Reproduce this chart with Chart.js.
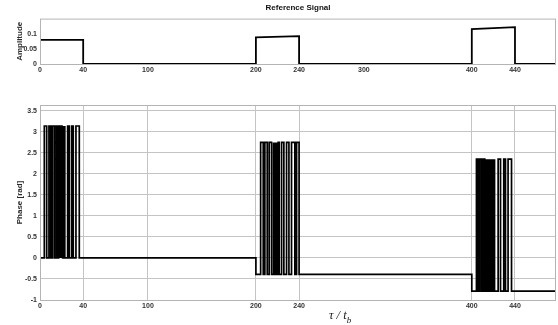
<!DOCTYPE html>
<html>
<head>
<meta charset="utf-8">
<script src="https://cdn.jsdelivr.net/npm/chart.js@4/dist/chart.umd.min.js"></script>
<style>
  html, body { margin: 0; padding: 0; background: #fff; }
  body { width: 558px; height: 325px; position: relative; overflow: hidden; font-family: "Liberation Sans", Arial, sans-serif; }
  #top-box { position: absolute; left: 0; top: 0; width: 558px; height: 80px; }
  #bot-box { position: absolute; left: 0; top: 80px; width: 558px; height: 245px; }
  #xlabel { position: absolute; left: 329px; top: 308px; font-family: "Liberation Serif", "DejaVu Serif", serif; font-style: italic; font-size: 12.5px; color: #222; white-space: nowrap; }
  #xlabel sub { font-size: 9px; }
</style>
</head>
<body>
<div id="top-box"><canvas id="chart-amp"></canvas></div>
<div id="bot-box"><canvas id="chart-phase"></canvas></div>
<div id="xlabel">τ / t<sub>b</sub></div>
<script>
// ─── datos ────────────────────────────────────────────────────────────────────
const X_MAX = 478;
const blockStarts = [0, 200, 400];
const blockLen = 40;

// amplitud al inicio y al final de cada pulso
const ampStart = [0.08, 0.088, 0.115];
const ampEnd = [0.08, 0.092, 0.122];

// fase: nivel bajo / alto de cada pulso
const phaseLow = [0, -0.39, -0.79];
const phaseHigh = [3.14, 2.75, 2.35];

// instantes de conmutacion de fase (alterna subida / bajada)
const edges1 = [4.0, 6.2, 8.3, 9.9, 11.4, 13.2, 14.8, 16.0, 17.3, 17.7, 18.2, 18.6, 19.1, 19.5,
  20.0, 20.4, 20.9, 21.3, 21.8, 22.2, 22.7, 23.1, 25.6, 27.1, 29.3, 30.8, 33.3, 36.4];
const edges2 = [204.4, 206.8, 208.3, 210.5, 212.3, 214.5, 216.0, 216.5, 217.0, 217.4, 217.9, 218.3,
  218.8, 219.2, 219.7, 220.1, 220.6, 221.6, 223.8, 225.9, 228.4, 230.6, 233.0, 236.1, 237.7, 240.0];
const edges3 = [404.3, 405.8, 407.4, 409.0, 410.5, 412.0, 412.5, 413.0, 413.4, 413.9, 414.3, 414.8,
  415.2, 415.7, 416.1, 416.6, 417.0, 417.5, 417.9, 418.4, 418.8, 419.3, 419.7, 420.2, 420.6, 421.3,
  424.4, 426.6, 429.6, 431.2, 433.6, 436.8];
const phaseEdges = [edges1, edges2, edges3];

const ampTicksX = [0, 40, 100, 200, 240, 300, 400, 440];
const ampTicksY = [0, 0.05, 0.1];
const phaseTicksX = [0, 40, 100, 200, 240, 400, 440];
const phaseTicksY = [-1, -0.5, 0, 0.5, 1, 1.5, 2, 2.5, 3, 3.5];

// ─── construir trazos ────────────────────────────────────────────────────────
const ampPts = [];
blockStarts.forEach((s, i) => {
  ampPts.push({ x: s, y: 0 }, { x: s, y: ampStart[i] }, { x: s + blockLen, y: ampEnd[i] }, { x: s + blockLen, y: 0 });
});
ampPts.push({ x: X_MAX, y: 0 });
ampPts.shift(); // el primer pulso arranca ya arriba en x=0

const phasePts = [{ x: 0, y: 0 }];
let nivel = 0;
blockStarts.forEach((s, i) => {
  phasePts.push({ x: s, y: nivel }, { x: s, y: phaseLow[i] });
  nivel = phaseLow[i];
  phaseEdges[i].forEach((e, k) => {
    const nuevo = k % 2 === 0 ? phaseHigh[i] : phaseLow[i];
    phasePts.push({ x: e, y: nivel }, { x: e, y: nuevo });
    nivel = nuevo;
  });
});
phasePts.push({ x: X_MAX, y: nivel });

// ─── estilo comun ────────────────────────────────────────────────────────────
const tickFont = { family: 'Liberation Sans', size: 7, weight: 'bold' };
const tickColor = '#333';
const marco = {
  id: 'marco',
  afterDraw(chart) {
    const { ctx, chartArea: a } = chart;
    ctx.save();
    ctx.strokeStyle = '#b4b4b4';
    ctx.lineWidth = 1;
    ctx.strokeRect(a.left + 0.5, a.top + 0.5, a.right - a.left - 1, a.bottom - a.top);
    ctx.restore();
  }
};

function ejeX(ticks, altura, conGrid) {
  return {
    type: 'linear', min: 0, max: X_MAX,
    afterBuildTicks: s => { s.ticks = ticks.map(v => ({ value: v })); },
    afterFit: s => { s.height = altura; },
    ticks: { color: tickColor, font: tickFont, padding: 2, maxRotation: 0, autoSkip: false, callback: v => String(v) },
    grid: { display: conGrid, color: '#c4c4c4', drawTicks: false },
    border: { display: false }
  };
}
function ejeY(min, max, ticks, titulo, conGrid) {
  return {
    min, max,
    afterBuildTicks: s => { s.ticks = ticks.map(v => ({ value: v })); },
    afterFit: s => { s.width = 40; },
    ticks: { color: tickColor, font: tickFont, padding: 3, callback: v => String(v) },
    grid: { display: conGrid, color: '#c4c4c4', drawTicks: false },
    border: { display: false },
    title: { display: true, text: titulo, color: '#2a2a2a', font: { family: 'Liberation Sans', size: 8, weight: 'bold' }, padding: { top: 15, bottom: 0 } }
  };
}

new Chart(document.getElementById('chart-amp'), {
  type: 'line',
  data: { datasets: [{ data: ampPts, borderColor: '#000', borderWidth: 1.8, pointRadius: 0, tension: 0, fill: false }] },
  options: {
    responsive: true, maintainAspectRatio: false, animation: false,
    layout: { padding: { left: 0, right: 2, top: 0, bottom: 0 } },
    plugins: {
      legend: { display: false }, tooltip: { enabled: false },
      title: { display: true, fullSize: false, text: 'Reference Signal', color: '#111', font: { family: 'Liberation Sans', size: 8, weight: 'bold' }, padding: { top: 3, bottom: 6 } }
    },
    scales: { x: ejeX(ampTicksX, 16, false), y: ejeY(0, 0.15, ampTicksY, 'Amplitude', false) }
  },
  plugins: [marco]
});

new Chart(document.getElementById('chart-phase'), {
  type: 'line',
  data: { datasets: [{ data: phasePts, borderColor: '#000', borderWidth: 1.7, pointRadius: 0, tension: 0, fill: false }] },
  options: {
    responsive: true, maintainAspectRatio: false, animation: false,
    layout: { padding: { left: 0, right: 2, top: 25, bottom: 0 } },
    plugins: { legend: { display: false }, tooltip: { enabled: false } },
    scales: { x: ejeX(phaseTicksX, 25, true), y: ejeY(-1, 3.64, phaseTicksY, 'Phase [rad]', true) }
  },
  plugins: [marco]
});
</script>
</body>
</html>
